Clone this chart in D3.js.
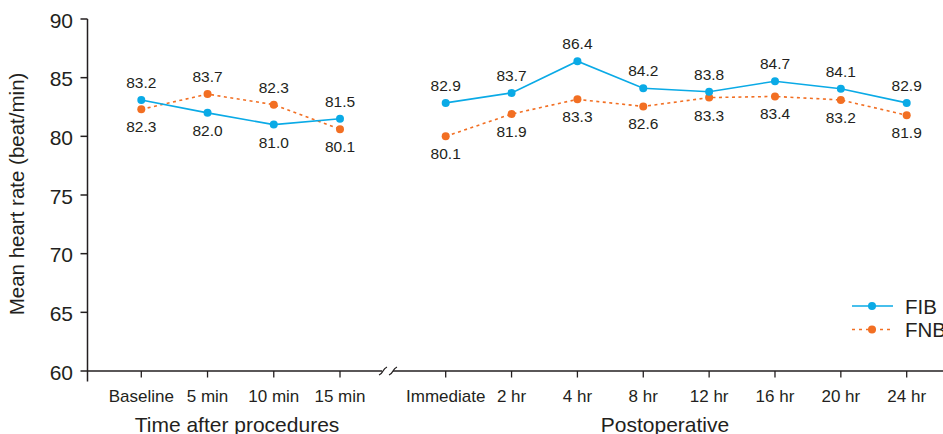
<!DOCTYPE html>
<html>
<head>
<meta charset="utf-8">
<script src="https://cdn.jsdelivr.net/npm/d3@7"></script>
<style>
  html, body { margin: 0; padding: 0; background: #fff; }
  svg { display: block; font-family: "Liberation Sans", Arial, sans-serif; }
</style>
</head>
<body>
<svg id="chart" width="943" height="434"></svg>
<script>
// ---- data ----
const procCategories = ["Baseline", "5 min", "10 min", "15 min"];
const postCategories = ["Immediate", "2 hr", "4 hr", "8 hr", "12 hr", "16 hr", "20 hr", "24 hr"];
// plotted positions
const fibProc = [83.1, 82.0, 81.0, 81.5];
const fnbProc = [82.3, 83.6, 82.7, 80.6];
const fibPost = [82.85, 83.7, 86.4, 84.1, 83.8, 84.7, 84.05, 82.85];
const fnbPost = [80.0, 81.9, 83.15, 82.55, 83.3, 83.4, 83.1, 81.8];
// printed value labels
const fibProcLabels = ["83.2", "82.0", "81.0", "81.5"];
const fnbProcLabels = ["82.3", "83.7", "82.3", "80.1"];
const fibPostLabels = ["82.9", "83.7", "86.4", "84.2", "83.8", "84.7", "84.1", "82.9"];
const fnbPostLabels = ["80.1", "81.9", "83.3", "82.6", "83.3", "83.4", "83.2", "81.9"];
const yTicks = [60, 65, 70, 75, 80, 85, 90];
const seriesNames = ["FIB", "FNB"];

// ---- setup ----
const svg = d3.select("#chart");
const ink = "#231f20";
const blue = "#0aaae6";
const orange = "#f26f23";

const y = d3.scaleLinear().domain([60, 90]).range([371, 19]);
const x1 = d3.scalePoint().domain(procCategories).range([141.3, 340]);
const x2 = d3.scalePoint().domain(postCategories).range([445.7, 906.7]);
const axisX = 87.5;

// y axis
svg.append("line").attr("x1", axisX).attr("x2", axisX).attr("y1", y(90)).attr("y2", 381.5)
  .attr("stroke", ink).attr("stroke-width", 1.5);
const yt = svg.append("g");
yTicks.forEach(t => {
  yt.append("line").attr("x1", axisX - 7).attr("x2", axisX).attr("y1", y(t)).attr("y2", y(t))
    .attr("stroke", ink).attr("stroke-width", 1.5);
  yt.append("text").attr("x", 73).attr("y", y(t) + 8.5).attr("text-anchor", "end")
    .attr("font-size", 21).attr("fill", ink).text(t);
});

// x axis with break
svg.append("line").attr("x1", axisX).attr("x2", 382).attr("y1", y(60)).attr("y2", y(60))
  .attr("stroke", ink).attr("stroke-width", 1.5);
svg.append("line").attr("x1", 393).attr("x2", 943).attr("y1", y(60)).attr("y2", y(60))
  .attr("stroke", ink).attr("stroke-width", 1.5);
[383, 393].forEach(bx => {
  const by = y(60);
  svg.append("path")
    .attr("d", `M${bx - 4},${by + 4} Q${bx - 1.5},${by + 3} ${bx},${by} Q${bx + 1.5},${by - 3} ${bx + 4},${by - 4}`)
    .attr("fill", "none").attr("stroke", ink).attr("stroke-width", 1.3);
});

function xTicks(scale, cats) {
  cats.forEach(c => {
    svg.append("line").attr("x1", scale(c)).attr("x2", scale(c)).attr("y1", y(60)).attr("y2", y(60) + 6.5)
      .attr("stroke", ink).attr("stroke-width", 1.3);
    svg.append("text").attr("x", scale(c)).attr("y", 402).attr("text-anchor", "middle")
      .attr("font-size", 17).attr("fill", ink).text(c);
  });
}
xTicks(x1, procCategories);
xTicks(x2, postCategories);

// axis titles
svg.append("text").attr("x", 237).attr("y", 432).attr("text-anchor", "middle")
  .attr("font-size", 21).attr("fill", ink).text("Time after procedures");
svg.append("text").attr("x", 665).attr("y", 432).attr("text-anchor", "middle")
  .attr("font-size", 21).attr("fill", ink).text("Postoperative");
svg.append("text").attr("transform", "translate(24,194) rotate(-90)").attr("text-anchor", "middle")
  .attr("font-size", 20.5).attr("fill", ink).text("Mean heart rate (beat/min)");

// series
function drawSeries(scale, cats, vals, color, dashed) {
  const line = d3.line().x((d, i) => scale(cats[i])).y(d => y(d));
  svg.append("path").datum(vals).attr("d", line).attr("fill", "none")
    .attr("stroke", color).attr("stroke-width", 1.6)
    .attr("stroke-dasharray", dashed ? "3,3.5" : null);
  svg.append("g").selectAll("circle").data(vals).join("circle")
    .attr("cx", (d, i) => scale(cats[i])).attr("cy", d => y(d)).attr("r", 4).attr("fill", color);
}
function drawLabels(scale, cats, vals, labels, other) {
  svg.append("g").selectAll("text").data(vals).join("text")
    .attr("x", (d, i) => scale(cats[i]))
    .attr("y", (d, i) => d >= other[i] ? y(d) - 12 : y(d) + 23)
    .attr("text-anchor", "middle").attr("font-size", 15.5).attr("fill", ink)
    .text((d, i) => labels[i]);
}
drawSeries(x1, procCategories, fnbProc, orange, true);
drawSeries(x1, procCategories, fibProc, blue, false);
drawSeries(x2, postCategories, fnbPost, orange, true);
drawSeries(x2, postCategories, fibPost, blue, false);
drawLabels(x1, procCategories, fibProc, fibProcLabels, fnbProc);
drawLabels(x1, procCategories, fnbProc, fnbProcLabels, fibProc);
drawLabels(x2, postCategories, fibPost, fibPostLabels, fnbPost);
drawLabels(x2, postCategories, fnbPost, fnbPostLabels, fibPost);

// legend
const legend = svg.append("g");
seriesNames.forEach((name, i) => {
  const ly = 306 + i * 23.5;
  const color = i === 0 ? blue : orange;
  legend.append("line").attr("x1", 852).attr("x2", 893).attr("y1", ly).attr("y2", ly)
    .attr("stroke", color).attr("stroke-width", 1.6).attr("stroke-dasharray", i === 0 ? null : "3,4");
  legend.append("circle").attr("cx", 872).attr("cy", ly).attr("r", 4).attr("fill", color);
  legend.append("text").attr("x", 905).attr("y", ly + 7.5).attr("font-size", 20.5).attr("fill", ink).text(name);
});
</script>
</body>
</html>
